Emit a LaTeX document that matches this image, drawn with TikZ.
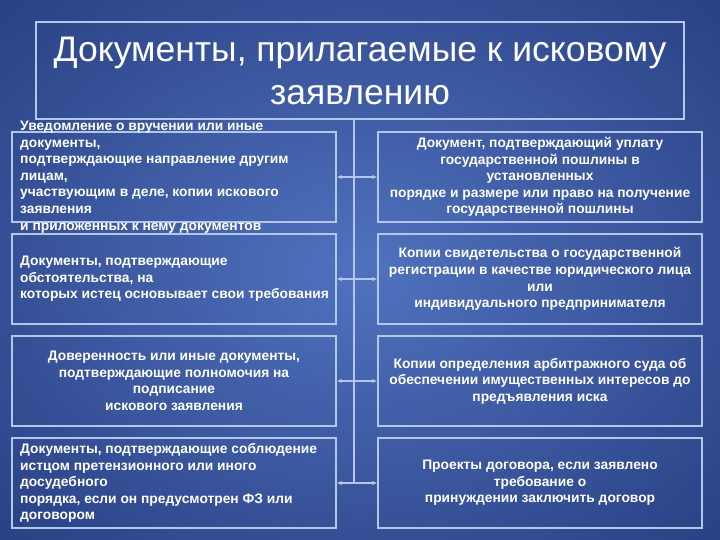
\documentclass[tikz,border=0pt]{standalone}
\usepackage{fontspec}
\setmainfont{Liberation Sans}
\usetikzlibrary{arrows.meta}

\definecolor{bgin}{RGB}{80,114,190}
\definecolor{bgout}{RGB}{14,30,92}
\definecolor{framecol}{RGB}{180,198,234}
\pgfdeclareradialshading{slidebg}{\pgfpoint{0bp}{0bp}}{color(0bp)=(bgin); color(60bp)=(bgout); color(71bp)=(bgout)}

\begin{document}
\begin{tikzpicture}[x=1pt,y=-1pt,
    box/.style={draw=framecol,line width=1.4pt,minimum width=324pt,minimum height=90pt,inner sep=0pt},
    txt/.style={text=white,font=\fontsize{13.8}{16.6}\selectfont\bfseries,inner sep=0pt},
    link/.style={draw=framecol,line width=1.4pt}]

  \useasboundingbox (0,0) rectangle (720,540);
  \shade[shading=slidebg] (0,0) rectangle (720,540);

  \node[box,minimum width=648pt,minimum height=97pt,text=white,align=center,
        font=\fontsize{35.5}{43}\selectfont] (title) at (360,70.5)
        {Документы, прилагаемые к исковому\\заявлению};

  \begin{scope}[every node/.style={box}]
    \node (l1) at (174,177) {};
    \node (l2) at (174,279) {};
    \node (l3) at (174,381) {};
    \node (l4) at (174,483) {};
    \node (r1) at (540,177) {};
    \node (r2) at (540,279) {};
    \node (r3) at (540,381) {};
    \node (r4) at (540,483) {};
  \end{scope}

  \begin{scope}[every node/.style={txt}]
    \node[anchor=west,align=left] (lt1) at (20,177)
      {Уведомление о вручении или иные\\документы,\\подтверждающие направление другим\\лицам,\\участвующим в деле, копии искового\\заявления\\и приложенных к нему документов};
    \node[anchor=west,align=left] (lt2) at (20,279)
      {Документы, подтверждающие\\обстоятельства, на\\которых истец основывает свои требования};
    \node[align=center] (lt3) at (174,381)
      {Доверенность или иные документы,\\подтверждающие полномочия на\\подписание\\искового заявления};
    \node[anchor=west,align=left] (lt4) at (20,483)
      {Документы, подтверждающие соблюдение\\истцом претензионного или иного\\досудебного\\порядка, если он предусмотрен ФЗ или\\договором};
    \node[align=center] (rt1) at (540,177)
      {Документ, подтверждающий уплату\\государственной пошлины в\\установленных\\порядке и размере или право на получение\\государственной пошлины};
    \node[align=center] (rt2) at (540,279)
      {Копии свидетельства о государственной\\регистрации в качестве юридического лица\\или\\индивидуального предпринимателя};
    \node[align=center] (rt3) at (540,381)
      {Копии определения арбитражного суда об\\обеспечении имущественных интересов до\\предъявления иска};
    \node[align=center] (rt4) at (540,483)
      {Проекты договора, если заявлено\\требование о\\принуждении заключить договор};
  \end{scope}

  % spine and side arrows
  \coordinate (spine) at (354,0);
  \draw[link] (title.south -| spine) -- (spine |- l4);
  \foreach \i in {1,...,4}
    \draw[link,{Latex[length=5pt,width=4.5pt]}-{Latex[length=5pt,width=4.5pt]}] (l\i) -- (r\i);

\end{tikzpicture}
\end{document}
